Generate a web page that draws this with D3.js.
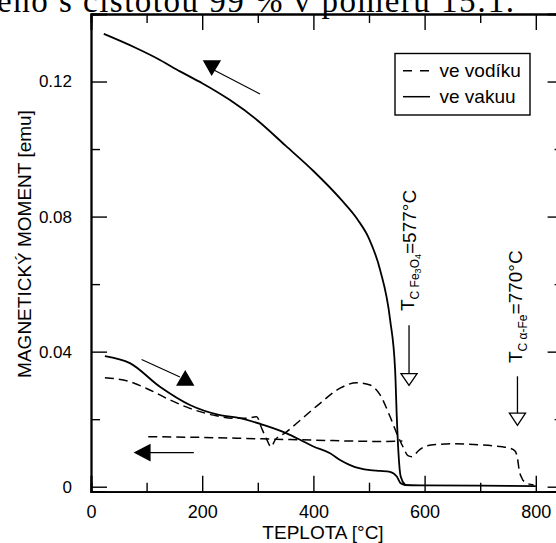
<!DOCTYPE html>
<html>
<head>
<meta charset="utf-8">
<script src="https://cdn.jsdelivr.net/npm/d3@7"></script>
<style>
  html, body { margin: 0; padding: 0; background: #fff; }
  svg { display: block; }
  text { font-family: "Liberation Sans", Arial, sans-serif; fill: #000; }
</style>
</head>
<body>
<svg id="chart" width="556" height="543"></svg>
<script>
// ---- data ----
const xTicksMajor = [0, 200, 400, 600, 800];
const xTicksMinor = [100, 300, 500, 700];
const yTicksMajor = [0, 0.04, 0.08, 0.12];
const yTicksMinor = [0.02, 0.06, 0.10];
const yTickLabels = ["0", "0.04", "0.08", "0.12"];

// vacuum, heating (lower solid)
const vakHeatT = [25, 70, 124, 178, 232, 268, 310, 352, 376, 400, 430, 448, 466, 484, 502, 520, 538, 550, 557, 565, 600, 700, 800];
const vakHeatM = [0.0387, 0.0366, 0.0296, 0.0242, 0.0212, 0.0203, 0.0183, 0.0158, 0.0139, 0.0119, 0.0099, 0.0079, 0.0064, 0.0054, 0.0049, 0.0047, 0.0044, 0.0030, 0.0010, 0.0005, 0.0004, 0.0003, 0.0002];
// vacuum, cooling (upper solid)
const vakCoolT = [23, 80, 124, 160, 200, 250, 298, 350, 400, 450, 480, 500, 520, 538, 547, 550, 553, 557, 565];
const vakCoolM = [0.1341, 0.1300, 0.1264, 0.1230, 0.1195, 0.1145, 0.1087, 0.1010, 0.0935, 0.0850, 0.0790, 0.0735, 0.0642, 0.0494, 0.0345, 0.0206, 0.0100, 0.0030, 0.0005];
// hydrogen, heating (dashed)
const vodHeatT = [25, 70, 100, 142, 178, 220, 256, 280, 298, 307, 316, 324, 331, 350, 370, 412, 448, 478, 502, 520, 538, 552, 562, 570, 577, 590, 600, 620, 650, 700, 740, 754, 763, 767, 770, 775, 782, 796];
const vodHeatM = [0.0323, 0.0311, 0.0291, 0.0257, 0.0232, 0.0212, 0.0203, 0.0203, 0.0207, 0.0173, 0.0140, 0.0118, 0.0138, 0.0160, 0.0188, 0.0247, 0.0292, 0.0308, 0.0301, 0.0272, 0.0207, 0.0150, 0.0115, 0.0092, 0.0089, 0.0108, 0.0119, 0.0125, 0.0127, 0.0124, 0.0118, 0.0114, 0.0105, 0.0085, 0.0050, 0.0025, 0.0012, 0.0005];
// hydrogen, cooling (flat dashed)
const vodCoolT = [560, 520, 400, 300, 200, 103];
const vodCoolM = [0.0135, 0.0134, 0.0138, 0.0142, 0.0146, 0.0148];

const seriesNames = ["ve vodíku", "ve vakuu"];

// ---- layout ----
const svg = d3.select("#chart");
const x = d3.scaleLinear().domain([0, 850]).range([91, 563.6]);
const y = d3.scaleLinear().domain([-0.00148, 0.14]).range([491.7, 14]);

// page text above (cropped at top, as in the source page)
svg.append("text")
  .attr("x", -3).attr("y", 12)
  .style("font-family", "'Liberation Serif', 'Times New Roman', serif")
  .style("font-size", "33px")
  .attr("textLength", 517).attr("lengthAdjust", "spacing")
  .text("ěno s čistotou 99 % v poměru 15:1.");

// axes
function styleAxis(g) {
  g.selectAll(".domain").attr("stroke", "#000").attr("stroke-width", 1.8);
  g.selectAll(".tick line").attr("stroke", "#000").attr("stroke-width", 1.4);
}
const fmt = d => yTickLabels[yTicksMajor.indexOf(d)];

svg.append("g").attr("transform", `translate(0,${y.range()[0]})`)
  .call(d3.axisBottom(x).tickValues(xTicksMinor).tickSize(-9).tickFormat(""))
  .call(styleAxis);
svg.append("g").attr("transform", `translate(0,${y.range()[0]})`)
  .call(d3.axisBottom(x).tickValues(xTicksMajor).tickSize(-16).tickPadding(14).tickFormat(d3.format("d")))
  .call(styleAxis)
  .selectAll("text").style("font-size", "18px");

svg.append("g").attr("transform", `translate(0,${y.range()[1]})`)
  .call(d3.axisTop(x).tickValues(xTicksMinor).tickSize(-9).tickFormat(""))
  .call(styleAxis);
svg.append("g").attr("transform", `translate(0,${y.range()[1]})`)
  .call(d3.axisTop(x).tickValues(xTicksMajor).tickSize(-16).tickFormat(""))
  .call(styleAxis);

svg.append("g").attr("transform", `translate(${x.range()[0]},0)`)
  .call(d3.axisLeft(y).tickValues(yTicksMinor).tickSize(-9).tickFormat(""))
  .call(styleAxis);
svg.append("g").attr("transform", `translate(${x.range()[0]},0)`)
  .call(d3.axisLeft(y).tickValues(yTicksMajor).tickSize(-16).tickPadding(19).tickFormat(fmt))
  .call(styleAxis)
  .selectAll("text").style("font-size", "17px");

svg.append("g").attr("transform", `translate(${x.range()[1]},0)`)
  .call(d3.axisRight(y).tickValues(yTicksMinor).tickSize(-9).tickFormat(""))
  .call(styleAxis);
svg.append("g").attr("transform", `translate(${x.range()[1]},0)`)
  .call(d3.axisRight(y).tickValues(yTicksMajor).tickSize(-16).tickFormat(""))
  .call(styleAxis);

// axis titles
svg.append("text").attr("x", 323).attr("y", 539).attr("text-anchor", "middle")
  .style("font-size", "19px").text("TEPLOTA [°C]");
svg.append("text").attr("transform", "translate(31,244) rotate(-90)").attr("text-anchor", "middle")
  .style("font-size", "19px").text("MAGNETICKÝ MOMENT [emu]");

// curves
const line = d3.line().x(d => x(d[0])).y(d => y(d[1])).curve(d3.curveMonotoneX);
const zip = (a, b) => a.map((v, i) => [v, b[i]]);
const plot = svg.append("g").attr("fill", "none").attr("stroke", "#000");
plot.append("path").attr("d", line(zip(vakHeatT, vakHeatM))).attr("stroke-width", 1.8);
plot.append("path").attr("d", line(zip(vakCoolT, vakCoolM).sort((a, b) => a[0] - b[0]))).attr("stroke-width", 1.8);
plot.append("path").attr("d", line(zip(vodHeatT, vodHeatM))).attr("stroke-width", 1.5).attr("stroke-dasharray", "9,5");
plot.append("path").attr("d", line(zip(vodCoolT, vodCoolM).sort((a, b) => a[0] - b[0]))).attr("stroke-width", 1.5).attr("stroke-dasharray", "9,5");

// legend
const lg = svg.append("g");
lg.append("rect").attr("x", 395).attr("y", 53.5).attr("width", 135).attr("height", 61.5)
  .attr("fill", "#fff").attr("stroke", "#000").attr("stroke-width", 1.4);
lg.append("line").attr("x1", 403).attr("x2", 430).attr("y1", 70.7).attr("y2", 70.7)
  .attr("stroke", "#000").attr("stroke-width", 1.5).attr("stroke-dasharray", "9,8");
lg.append("line").attr("x1", 403).attr("x2", 430).attr("y1", 96.7).attr("y2", 96.7)
  .attr("stroke", "#000").attr("stroke-width", 1.5);
lg.append("text").attr("x", 439.5).attr("y", 77).style("font-size", "19px").text(seriesNames[0]);
lg.append("text").attr("x", 439.5).attr("y", 103.3).style("font-size", "19px").text(seriesNames[1]);

// direction arrows (annotation, positioned in data units)
const ann = svg.append("g").attr("stroke", "#000").attr("fill", "#000");
function tri(pts, fill) {
  ann.append("path").attr("d", "M" + pts.map(p => x(p[0]) + "," + y(p[1])).join("L") + "Z")
    .attr("fill", fill).attr("stroke-width", 1.3).attr("stroke-linejoin", "miter");
}
function seg(a, b, w) {
  ann.append("line").attr("x1", x(a[0])).attr("y1", y(a[1])).attr("x2", x(b[0])).attr("y2", y(b[1]))
    .attr("stroke-width", w || 1.1);
}
// top arrow
seg([221, 0.1234], [304, 0.1163]);
tri([[203, 0.1261], [232, 0.1261], [217, 0.1220]], "#000");
// middle arrow
seg([91, 0.0377], [160, 0.0325]);
tri([[155, 0.0301], [184, 0.0301], [169.5, 0.0342]], "#000");
// left arrow
seg([106, 0.0101], [185, 0.0101]);
tri([[79, 0.0101], [106, 0.0124], [106, 0.0078]], "#000");

// Curie temperature labels
function curie(xp, yStart, sub, val) {
  const t = svg.append("text").attr("transform", `translate(${xp},${yStart}) rotate(-90)`).style("font-size", "19px");
  t.append("tspan").text("T");
  const s = t.append("tspan").attr("dy", 5).style("font-size", "12px");
  sub(s);
  t.append("tspan").attr("dy", -5).text(val);
}
curie(413.5, 311, s => {
  s.append("tspan").text("C Fe");
  s.append("tspan").attr("dy", 2).style("font-size", "9px").text("3");
  s.append("tspan").attr("dy", -2).text("O");
  s.append("tspan").attr("dy", 2).style("font-size", "9px").text("4");
  s.append("tspan").attr("dy", -2).text("");
}, "=577°C");
curie(521.7, 363, s => { s.text("C α-Fe"); }, "=770°C");

// open arrows below labels
seg([572, 0.0478], [572, 0.0335], 1.3);
tri([[557.5, 0.0335], [586.5, 0.0335], [572, 0.0300]], "#fff");
seg([767, 0.0327], [767, 0.0218], 1.3);
tri([[752.5, 0.0218], [781.5, 0.0218], [767, 0.0182]], "#fff");
</script>
</body>
</html>
